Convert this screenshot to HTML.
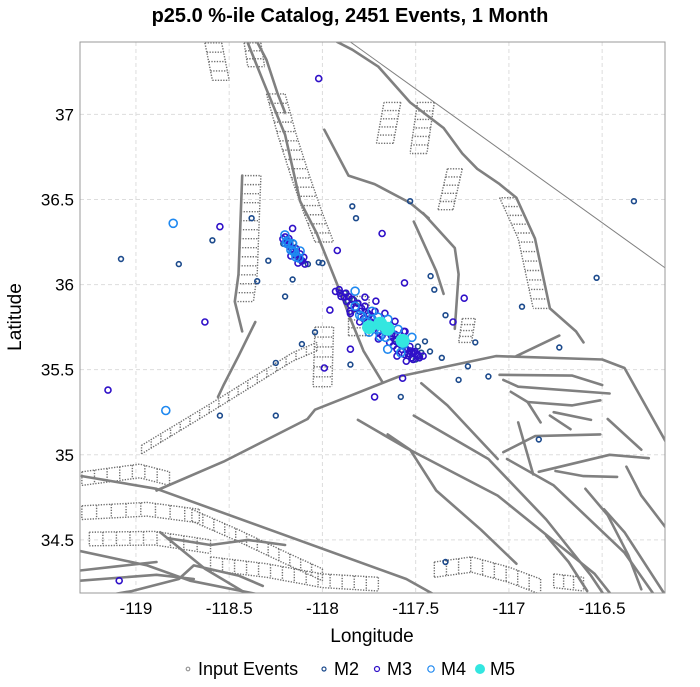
<!DOCTYPE html>
<html><head><meta charset="utf-8"><style>
html,body{margin:0;padding:0;background:#fff;}
svg{display:block;font-family:"Liberation Sans",sans-serif;}
</style></head><body>
<svg id="chart" width="700" height="687" viewBox="0 0 700 687">
<text x="350" y="22" text-anchor="middle" font-size="20" font-weight="bold">p25.0 %-ile Catalog, 2451 Events, 1 Month</text>
<g id="grid"></g>
<g id="faults"></g>
<g id="events"></g>
<rect x="80" y="42" width="585" height="551" fill="none" stroke="#999" stroke-width="1"/>
<g id="xticks"></g>
<g id="yticks"></g>
<text x="372" y="642" text-anchor="middle" font-size="19">Longitude</text>
<text transform="translate(21,317) rotate(-90)" text-anchor="middle" font-size="19">Latitude</text>
<g id="legend"></g>
</svg>
<script>
const xTicks=[-119,-118.5,-118,-117.5,-117,-116.5];
const xTickLabels=["-119","-118.5","-118","-117.5","-117","-116.5"];
const yTicks=[37,36.5,36,35.5,35,34.5];
const yTickLabels=["37","36.5","36","35.5","35","34.5"];
const magClasses=["M2","M3","M4","M5"];
const magColors=["#1c4a8c","#2f10c8","#1e88f0","#33e6e0"];
const magRadius=[2.4,3.0,4.0,7];
const eventLon=[-118.02,-116.33,-118.80,-119.15,-118.84,-119.08,-118.77,-118.63,-118.59,-118.55,-118.38,-117.84,-117.82,-117.68,-117.53,-117.42,-117.24,-116.93,-116.53,-116.73,-116.84,-117.34,-119.09,-118.25,-118.55,-118.11,-118.25,-117.99,-117.72,-117.58,-117.27,-117.11,-117.22,-117.36,-117.57,-117.85,-117.96,-118.04,-118.20,-118.16,-117.34,-117.30,-117.18,-117.56,-117.40,-118.02,-118.35,-118.29,-118.16,-118.21,-117.92,-117.85,-118.00,
-118.212,-118.195,-118.174,-118.158,-118.142,-118.126,-118.110,-118.185,-118.153,-118.131,-118.094,-118.201,-118.120,-118.169,-118.078,-118.190,-118.169,-118.142,
-117.906,-117.884,-117.863,-117.874,-117.842,-117.825,-117.852,-117.809,-117.799,-117.788,-117.772,-117.756,-117.734,-117.767,-117.718,-117.702,-117.681,-117.665,-117.649,-117.638,-117.627,-117.611,-117.595,-117.584,-117.563,-117.552,-117.531,-117.520,-117.504,-117.488,-117.541,-117.573,-117.606,-117.691,-117.477,-117.514,-117.450,-117.423,-117.557,-117.713,-117.825,-117.772,-117.734,-117.665,-117.611,-117.563,-117.520,-117.488,-117.74,-117.63,
-117.93,-117.91,-117.90,-117.88,-117.87,-117.86,-117.85,-117.83,-117.82,-117.81,-117.80,-117.79,-117.78,-117.77,-117.76,-117.75,-117.74,-117.73,-117.72,-117.71,-117.70,-117.69,-117.68,-117.67,-117.66,-117.65,-117.64,-117.63,-117.62,-117.61,-117.60,-117.59,-117.58,-117.57,-117.56,-117.55,-117.54,-117.53,-117.52,-117.51,-117.50,-117.49,-117.48,-117.47,-117.46,-117.60,-117.55,-117.65,-117.70,-117.75,-117.80,-117.85,
-118.20,-118.19,-118.18,-118.17,-118.16,-118.15,-118.14,-118.13,-118.12,-118.11,-118.18,-118.16,-118.14,-118.12,-118.10,
-117.75,-117.69,-117.65,-117.57];
const eventLat=[37.21,36.49,36.36,35.38,35.26,36.15,36.12,35.78,36.26,36.34,36.39,36.46,36.39,36.30,36.49,36.05,35.92,35.87,36.04,35.63,35.09,34.37,34.26,35.23,35.23,35.65,35.54,35.51,35.34,35.34,35.44,35.46,35.52,35.57,35.45,35.53,35.85,35.72,35.93,36.03,35.82,35.78,35.66,36.01,35.97,36.13,36.02,36.14,36.33,36.24,36.20,35.62,36.126,
36.268,36.244,36.221,36.197,36.174,36.156,36.138,36.233,36.244,36.126,36.120,36.292,36.197,36.168,36.120,36.256,36.203,36.162,
35.949,35.926,35.902,35.949,35.914,35.873,35.843,35.890,35.843,35.813,35.873,35.831,35.796,35.784,35.843,35.808,35.784,35.831,35.796,35.755,35.713,35.784,35.737,35.701,35.725,35.666,35.636,35.690,35.607,35.636,35.595,35.619,35.666,35.695,35.577,35.560,35.666,35.607,35.725,35.902,35.961,35.926,35.843,35.755,35.708,35.650,35.600,35.580,35.780,35.700,
35.96,35.97,35.93,35.95,35.90,35.93,35.88,35.91,35.86,35.89,35.82,35.86,35.80,35.84,35.78,35.82,35.77,35.80,35.74,35.78,35.72,35.76,35.70,35.74,35.69,35.72,35.66,35.70,35.64,35.68,35.62,35.66,35.60,35.64,35.59,35.62,35.58,35.61,35.57,35.60,35.56,35.59,35.57,35.60,35.58,35.58,35.55,35.62,35.68,35.72,35.78,35.83,
36.28,36.26,36.24,36.22,36.21,36.19,36.18,36.16,36.15,36.14,36.27,36.24,36.21,36.18,36.16,
35.75,35.77,35.74,35.67];
const eventMag=[1,0,2,1,2,0,0,1,0,1,0,0,0,1,0,0,1,0,0,0,0,0,1,0,0,0,0,1,1,0,0,0,0,0,1,0,1,0,0,0,0,1,0,1,0,0,0,0,1,0,1,1,0,
1,2,1,2,1,2,1,1,0,1,1,2,2,1,0,2,2,2,
1,1,0,1,1,2,1,0,1,2,1,1,2,1,1,2,1,1,2,1,1,1,2,1,1,1,1,2,1,0,1,1,1,2,0,1,0,0,1,1,2,1,2,2,1,2,1,1,1,1,
1,1,1,0,1,1,1,0,1,1,2,1,1,0,2,1,1,1,2,1,1,0,1,1,2,1,1,1,1,0,1,1,2,1,1,1,0,1,1,1,0,1,1,0,1,1,1,2,1,2,1,1,
1,1,2,1,1,2,1,1,0,1,1,2,1,1,1,
3,3,3,3];
const faultsMain=[
[[-119.29,34.875],[-118.89,34.80],[-117.55,34.27],[-117.37,34.16]],
[[-118.89,34.79],[-118.53,34.96],[-118.08,35.21],[-118.04,35.265],[-117.59,35.46],[-117.07,35.58],[-116.50,35.56],[-116.38,35.51],[-116.14,35.04]],
[[-116.96,35.58],[-116.73,35.70]],
[[-117.81,35.205],[-117.55,35.04],[-117.06,34.76],[-116.54,34.30],[-116.46,34.19]],
[[-117.65,35.12],[-117.53,35.03],[-117.39,34.79],[-117.15,34.56],[-116.96,34.36]],
[[-117.51,35.23],[-117.11,34.975],[-116.80,34.62],[-116.56,34.29],[-116.48,34.16]],
[[-117.47,35.42],[-117.33,35.29],[-117.06,34.975]],
[[-117.01,34.975],[-116.76,34.82],[-116.38,34.425],[-116.21,34.16]],
[[-117.05,35.47],[-116.66,35.465],[-116.50,35.41]],
[[-117.03,35.44],[-116.95,35.40],[-116.46,35.36]],
[[-116.99,35.37],[-116.90,35.31],[-116.83,35.19]],
[[-116.90,35.31],[-116.66,35.29],[-116.51,35.32]],
[[-116.76,35.25],[-116.56,35.205]],
[[-116.78,35.23],[-116.67,35.15]],
[[-116.95,35.19],[-116.87,34.885]],
[[-117.03,35.015],[-116.86,35.11],[-116.51,35.12]],
[[-116.84,34.90],[-116.46,35.00],[-116.25,34.98]],
[[-116.75,34.905],[-116.60,34.875],[-116.42,34.87]],
[[-116.47,35.21],[-116.29,35.03]],
[[-116.37,34.93],[-116.29,34.76],[-116.14,34.545]],
[[-116.59,34.80],[-116.47,34.645],[-116.36,34.41],[-116.29,34.21]],
[[-116.49,34.68],[-116.38,34.545],[-116.17,34.19]],
[[-116.80,34.525],[-116.68,34.37],[-116.58,34.20]],
[[-117.92,37.425],[-117.84,37.38],[-117.70,37.28],[-117.53,37.07],[-117.35,36.92],[-117.25,36.77],[-117.17,36.68],[-117.05,36.59],[-116.96,36.51],[-116.86,36.27],[-116.78,35.86],[-116.64,35.725],[-116.60,35.66]],
[[-118.40,37.42],[-118.32,37.20],[-118.20,36.88],[-118.12,36.49],[-118.03,36.30],[-117.92,36.00],[-117.85,35.80],[-117.78,35.61],[-117.68,35.43]],
[[-118.35,37.425],[-118.30,37.32],[-118.24,37.12],[-118.20,37.01]],
[[-117.99,36.91],[-117.86,36.64],[-117.72,36.59],[-117.53,36.48],[-117.43,36.39]],
[[-117.51,36.37],[-117.39,36.08],[-117.35,35.945]],
[[-117.46,36.42],[-117.29,36.215],[-117.27,36.06],[-117.29,35.74]],
[[-118.43,36.64],[-118.45,36.06],[-118.47,35.90],[-118.43,35.725]],
[[-118.36,35.78],[-118.45,35.58],[-118.53,35.41],[-118.56,35.34]],
[[-119.30,34.435],[-118.94,34.35],[-118.71,34.26],[-118.16,34.14]],
[[-119.30,34.32],[-119.10,34.345],[-118.89,34.37]],
[[-119.18,34.17],[-119.02,34.20],[-118.77,34.27],[-118.69,34.35],[-118.45,34.29],[-118.32,34.23]],
[[-118.87,34.545],[-118.63,34.33],[-118.43,34.20],[-118.16,34.06]],
[[-119.30,34.26],[-118.89,34.295],[-118.69,34.27]],
[[-118.83,34.51],[-118.60,34.47],[-118.40,34.50],[-118.20,34.47]]
];
const faultThin=[[[-117.85,37.425],[-116.14,36.08]]];
const ladders=[
[[[-118.30,37.12],[-118.24,36.88],[-118.17,36.64],[-118.10,36.42],[-118.04,36.25]],0.1,16],
[[[-118.43,36.64],[-118.45,36.06],[-118.47,35.90]],0.1,14],
[[[-118.97,35.005],[-118.60,35.25],[-118.16,35.55],[-118.03,35.61]],0.05,18],
[[[-116.96,36.51],[-116.86,36.27],[-116.78,35.86]],-0.09,12],
[[[-118.63,37.42],[-118.59,37.20]],0.09,4],
[[[-118.42,37.42],[-118.40,37.28]],0.09,3],
[[[-117.58,37.07],[-117.62,36.83]],-0.09,5],
[[[-117.40,37.07],[-117.44,36.77]],-0.09,6],
[[[-117.25,36.68],[-117.30,36.44]],-0.08,5],
[[[-117.86,35.93],[-117.86,35.70]],0.11,5],
[[[-118.04,35.75],[-118.05,35.40]],0.1,6],
[[[-117.25,35.80],[-117.27,35.66]],0.07,4],
[[[-119.29,34.90],[-118.98,34.945],[-118.82,34.90]],-0.08,7],
[[[-119.29,34.70],[-118.94,34.72],[-118.66,34.68]],-0.08,8],
[[[-118.70,34.68],[-118.45,34.56],[-118.20,34.43],[-118.00,34.33]],-0.07,12],
[[[-119.25,34.545],[-118.90,34.55],[-118.60,34.50]],-0.08,9],
[[[-118.60,34.40],[-118.30,34.36],[-118.00,34.30],[-117.70,34.28]],-0.08,14],
[[[-117.40,34.37],[-117.20,34.40],[-117.00,34.34],[-116.83,34.27]],-0.09,9],
[[[-116.76,34.30],[-116.60,34.28]],-0.08,3]
];
const X0=80,X1=665,Y0=42,Y1=593;
const lonMin=-119.30,lonMax=-116.163,latMin=34.188,latMax=37.425;
function xs(lon){return X0+(lon-lonMin)/(lonMax-lonMin)*(X1-X0);}
function ys(lat){return Y1-(lat-latMin)/(latMax-latMin)*(Y1-Y0);}
const NS="http://www.w3.org/2000/svg";
function mk(tag,attrs,parent){const e=document.createElementNS(NS,tag);for(const k in attrs)e.setAttribute(k,attrs[k]);parent.appendChild(e);return e;}
const grid=document.getElementById('grid');
xTicks.forEach((t,i)=>{
  const l=mk('line',{x1:xs(t),x2:xs(t),y1:Y0,y2:Y1,stroke:'#ddd','stroke-dasharray':'4 3'},grid);
  
  
  const tx=mk('text',{x:xs(t),y:614,'text-anchor':'middle','font-size':17},document.getElementById('xticks'));
  tx.textContent=xTickLabels[i];
  
  
});
yTicks.forEach((t,i)=>{
  const l=mk('line',{x1:X0,x2:X1,y1:ys(t),y2:ys(t),stroke:'#ddd','stroke-dasharray':'4 3'},grid);
  
  
  const tx=mk('text',{x:74,y:ys(t)+6,'text-anchor':'end','font-size':17},document.getElementById('yticks'));
  tx.textContent=yTickLabels[i];
  
  
});
const fg=document.getElementById('faults');
const clip=mk('clipPath',{id:'pc'},fg);mk('rect',{x:X0,y:Y0,width:X1-X0,height:Y1-Y0},clip);
fg.setAttribute('clip-path','url(#pc)');
function ptsStr(p){return p.map(q=>xs(q[0]).toFixed(1)+','+ys(q[1]).toFixed(1)).join(' ');}
const dot={fill:'none',stroke:'#6e6e6e','stroke-width':1.4,'stroke-dasharray':'1.3 1.4'};
ladders.forEach(L=>{
  const base=L[0],d=L[1],n=L[2];
  const horiz=Math.abs(base[0][0]-base[base.length-1][0])>Math.abs(base[0][1]-base[base.length-1][1]);
  const o=base.map(q=>horiz?[q[0],q[1]+d]:[q[0]+d,q[1]]);
  const a=mk('polyline',Object.assign({points:ptsStr(base)},dot),fg);
  
  
  const b=mk('polyline',Object.assign({points:ptsStr(o)},dot),fg);
  
  
  const segs=[];let tot=0;
  for(let i=1;i<base.length;i++){const dx=xs(base[i][0])-xs(base[i-1][0]),dy=ys(base[i][1])-ys(base[i-1][1]);const len=Math.hypot(dx,dy);segs.push(len);tot+=len;}
  for(let k=0;k<=n;k++){
    let s=tot*k/n,i=0;while(i<segs.length-1&&s>segs[i]){s-=segs[i];i++;}
    const f=segs[i]?Math.min(1,s/segs[i]):0;
    const p=[base[i][0]+(base[i+1][0]-base[i][0])*f,base[i][1]+(base[i+1][1]-base[i][1])*f];
    const q=horiz?[p[0],p[1]+d]:[p[0]+d,p[1]];
    const r=mk('line',Object.assign({x1:xs(p[0]),y1:ys(p[1]),x2:xs(q[0]),y2:ys(q[1])},dot),fg);
    
    
  }
});
faultsMain.forEach(f=>{
  const p=mk('polyline',{points:ptsStr(f),fill:'none',stroke:'#808080','stroke-width':2.6,'stroke-linejoin':'round','stroke-linecap':'round'},fg);
  
  
});
faultThin.forEach(f=>{
  const p=mk('polyline',{points:ptsStr(f),fill:'none',stroke:'#808080','stroke-width':1},fg);
  
  
});
const eg=document.getElementById('events');
const order=eventLon.map((_,i)=>i).sort((a,b)=>eventMag[a]-eventMag[b]);
order.forEach(i=>{
  const m=eventMag[i];
  const attrs={cx:xs(eventLon[i]).toFixed(1),cy:ys(eventLat[i]).toFixed(1),r:magRadius[m]};
  if(m===3){attrs.fill=magColors[3];}else{attrs.fill='none';attrs.stroke=magColors[m];attrs['stroke-width']=1.6;}
  const c=mk('circle',attrs,eg);
  
  
});
const lg=document.getElementById('legend');
const legItems=[["Input Events","#999",1.8,false,188],["M2",magColors[0],2,false,324],["M3",magColors[1],2.5,false,377],["M4",magColors[2],3.2,false,431],["M5",magColors[3],5,true,480]];
legItems.forEach(it=>{
  const c=mk('circle',it[3]?{cx:it[4],cy:669,r:it[2],fill:it[1]}:{cx:it[4],cy:669,r:it[2],fill:'none',stroke:it[1],'stroke-width':1.2},lg);
  
  
  const t=mk('text',{x:it[4]+10,y:675,'font-size':18},lg);
  t.textContent=it[0];
  
  
});
</script>
</body></html>
